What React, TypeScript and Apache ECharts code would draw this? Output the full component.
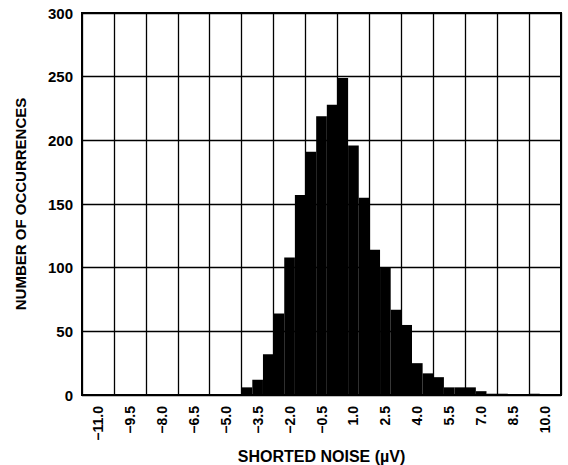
import React, { useEffect, useRef } from "react";
import * as echarts from "echarts";

// Bin centres (µV), 0.5 µV wide
const bins: number[] = [
  -11.5, -11.0, -10.5, -10.0, -9.5, -9.0, -8.5, -8.0, -7.5, -7.0, -6.5, -6.0,
  -5.5, -5.0, -4.5, -4.0, -3.5, -3.0, -2.5, -2.0, -1.5, -1.0, -0.5, 0.0, 0.5,
  1.0, 1.5, 2.0, 2.5, 3.0, 3.5, 4.0, 4.5, 5.0, 5.5, 6.0, 6.5, 7.0, 7.5, 8.0,
  8.5, 9.0, 9.5, 10.0, 10.5,
];

// Number of occurrences per bin
const counts: number[] = [
  0, 0, 0, 0, 0, 0, 0, 0, 0, 0, 0, 0,
  0, 0, 0, 6, 12, 32, 64, 108, 157, 191, 219, 228, 249,
  196, 155, 114, 100, 67, 55, 25, 17, 14, 6, 6, 6, 3, 1, 1,
  0, 0, 1, 0, 0,
];

const yTicks: number[] = [0, 50, 100, 150, 200, 250, 300];

const FONT = "'Liberation Sans', Arial, Helvetica, sans-serif";

const fmt = (v: number) => (v < 0 ? "\u2212" + Math.abs(v).toFixed(1) : v.toFixed(1));

export default function App() {
  const ref = useRef<HTMLDivElement>(null);
  useEffect(() => {
    if (!ref.current) return;
    const chart = echarts.init(ref.current, null, { renderer: "svg" });
    const cats = bins.map(fmt);
    chart.setOption({
      animation: false,
      backgroundColor: "#ffffff",
      grid: {
        left: 82,
        right: 7,
        top: 13,
        bottom: 70,
        containLabel: false,
        outerBoundsMode: "none",
        show: true,
        borderColor: "#000",
        borderWidth: 2,
        backgroundColor: "transparent",
      },
      xAxis: {
        type: "category",
        data: cats,
        boundaryGap: true,
        name: "SHORTED NOISE (µV)",
        nameLocation: "middle",
        nameGap: 47,
        nameTextStyle: { fontFamily: FONT, fontWeight: "bold", fontSize: 16, color: "#000" },
        axisLine: { show: true, lineStyle: { color: "#000", width: 2 } },
        axisTick: { show: false },
        axisLabel: {
          interval: (index: number) => index % 3 === 1,
          rotate: 90,
          margin: 11,
          fontFamily: FONT,
          fontWeight: "bold",
          fontSize: 14,
          color: "#000",
        },
        splitLine: {
          show: true,
          interval: (index: number) => index % 3 === 0,
          lineStyle: { color: "#000", width: 1.3 },
        },
      },
      yAxis: {
        type: "value",
        min: yTicks[0],
        max: yTicks[yTicks.length - 1],
        interval: 50,
        name: "NUMBER OF OCCURRENCES",
        nameLocation: "middle",
        nameGap: 54,
        nameTextStyle: { fontFamily: FONT, fontWeight: "bold", fontSize: 15, color: "#000" },
        axisLine: { show: true, lineStyle: { color: "#000", width: 2 } },
        axisTick: { show: false },
        axisLabel: {
          margin: 9,
          fontFamily: FONT,
          fontWeight: "bold",
          fontSize: 15,
          color: "#000",
        },
        splitLine: { show: true, lineStyle: { color: "#000", width: 1.3 } },
      },
      series: [
        {
          type: "bar",
          data: counts,
          barCategoryGap: 0,
          itemStyle: { color: "#000" },
          silent: true,
        },
      ],
    });
    return () => chart.dispose();
  }, []);
  return (
    <div
      ref={ref}
      style={{ position: "absolute", left: 0, top: 0, width: 568, height: 465 }}
    />
  );
}
